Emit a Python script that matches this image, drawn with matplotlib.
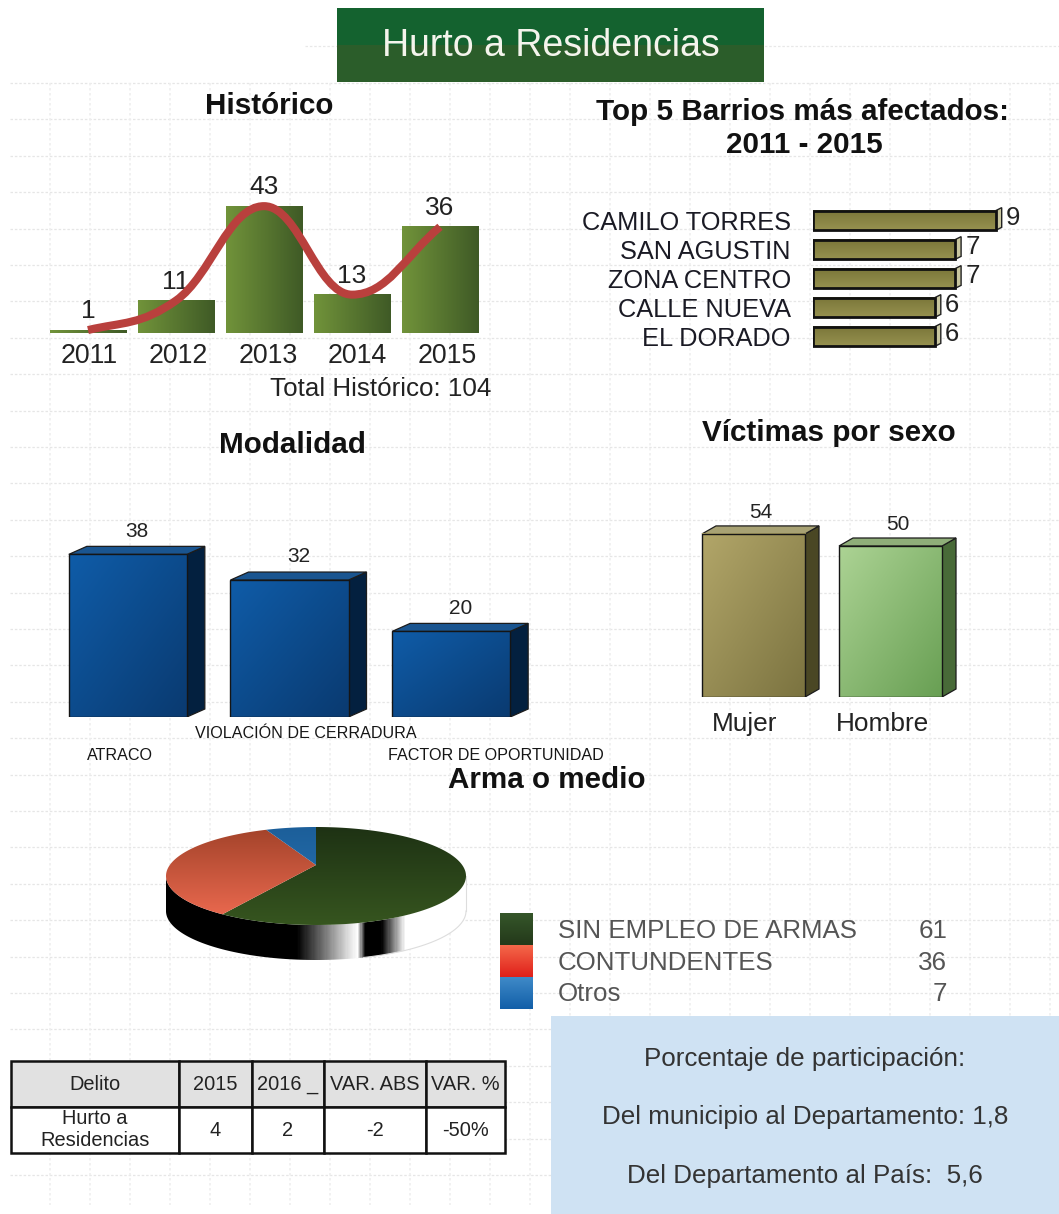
import numpy as np
import matplotlib
matplotlib.use('Agg')
import matplotlib.pyplot as plt
from matplotlib.colors import LinearSegmentedColormap
from matplotlib.patches import Polygon, PathPatch, Rectangle
from matplotlib.path import Path

plt.rcParams['font.family'] = ['Liberation Sans', 'DejaVu Sans']

W, H = 1059, 1214

# data
years = ['2011', '2012', '2013', '2014', '2015']
historico = [1, 11, 43, 13, 36]
barrios = ['CAMILO TORRES', 'SAN AGUSTIN', 'ZONA CENTRO', 'CALLE NUEVA', 'EL DORADO']
barrios_val = [9, 7, 7, 6, 6]
modalidad = ['ATRACO', 'VIOLACIÓN DE CERRADURA', 'FACTOR DE OPORTUNIDAD']
modalidad_val = [38, 32, 20]
sexo = ['Mujer', 'Hombre']
sexo_val = [54, 50]
armas = ['SIN EMPLEO DE ARMAS', 'CONTUNDENTES', 'Otros']
armas_val = [61, 36, 7]
tabla_cols = ['Delito', '2015', '2016 _', 'VAR. ABS', 'VAR. %']
tabla_fila = ['Hurto a\nResidencias', '4', '2', '-2', '-50%']

fig = plt.figure(figsize=(W / 100, H / 100), dpi=100, facecolor='white')


def ax_px(x0, y0, x1, y1, **kw):
    # axes placed with pixel coordinates, y going down
    ax = fig.add_axes([x0 / W, 1 - y1 / H, (x1 - x0) / W, (y1 - y0) / H], **kw)
    ax.patch.set_visible(False)
    return ax


def gradient(ax, x0, x1, bottom, top, c0, c1, mode='h', clip=None, z=2, stops=None):
    # mode h = left to right, v = top to bottom, d = diagonal
    n = 80
    if mode == 'h':
        img = np.linspace(0, 1, 300).reshape(1, -1)
    elif mode == 'v':
        img = np.linspace(0, 1, n).reshape(-1, 1)
    else:
        xx, yy = np.meshgrid(np.linspace(0, 1, n), np.linspace(0, 1, n))
        img = (xx + yy) / 2
    colors = stops if stops else [c0, c1]
    cmap = LinearSegmentedColormap.from_list('g', colors)
    im = ax.imshow(img, extent=(x0, x1, bottom, top), cmap=cmap, vmin=0, vmax=1,
                   aspect='auto', zorder=z, interpolation='bilinear')
    if clip is not None:
        clip.set_transform(ax.transData)
        im.set_clip_path(clip)
    return im


def bar3d(ax, x, w, h, dx, dy, c0, c1, ctop, cside, cside2=None):
    l, r = x - w / 2, x + w / 2
    side = Polygon([(r, 0), (r + dx, dy), (r + dx, h + dy), (r, h)], closed=True,
                   fc=cside, ec='#1c1c1c', lw=0.9, zorder=3)
    top = Polygon([(l, h), (l + dx, h + dy), (r + dx, h + dy), (r, h)], closed=True,
                  fc=ctop, ec='#1c1c1c', lw=0.9, zorder=3)
    ax.add_patch(side)
    ax.add_patch(top)
    gradient(ax, l, r, 0, h, c0, c1, mode='d', z=3)
    ax.add_patch(Rectangle((l, 0), w, h, fc='none', ec='#151515', lw=1.0, zorder=4))


# background with faint grid, banner and texts, in pixels
bg = ax_px(0, 0, W, H)
bg.set_xlim(0, W)
bg.set_ylim(H, 0)
bg.axis('off')
for gy in np.arange(83, 1190, 36.4):
    bg.plot([10, W], [gy, gy], color='#e6e6e6', lw=0.9, ls=(0, (2, 1.5)), zorder=0)
bg.plot([305, W], [46, 46], color='#e8e8e8', lw=0.9, ls=(0, (2, 1.5)), zorder=0)
for gx in np.arange(50, W, 40):
    bg.plot([gx, gx], [83, 1205], color='#efefef', lw=1.2, ls=(0, (1.5, 1.5)), zorder=0)

bg.add_patch(Rectangle((337, 8), 427, 37, fc='#14622f', ec='none', zorder=1))
bg.add_patch(Rectangle((337, 45), 427, 37, fc='#2b5d2a', ec='none', zorder=1))
bg.text(551, 46, 'Hurto a Residencias', color='#f4f4ec', fontsize=27, ha='center', va='center', zorder=5)

for tx, ty, s in [(269, 106, 'Histórico'), (802, 112, 'Top 5 Barrios más afectados:'),
                  (804, 145, '2011 - 2015'), (292, 445, 'Modalidad'),
                  (829, 433, 'Víctimas por sexo'), (547, 780, 'Arma o medio')]:
    bg.text(tx, ty, s, fontsize=21.3, fontweight='bold', color='#111111', ha='center', va='center', zorder=5)

bg.text(491, 389, 'Total Histórico: 104', fontsize=18.7, color='#222222', ha='right', va='center', zorder=5)

# Historico
ax = ax_px(44, 190, 484, 333)
esc = 2.95
ax.set_xlim(-0.5, 4.5)
ax.set_ylim(0, 143 / esc)
for i, v in enumerate(historico):
    gradient(ax, i - 0.435, i + 0.435, 0, v, '#71933a', '#3f5a26', mode='h')
    ax.annotate(str(v), (i, v), xytext=(0, 5), textcoords='offset points', ha='center', va='bottom',
                fontsize=19, color='#222222', annotation_clip=False, zorder=4)
xs = np.arange(len(historico))
ys = np.array(historico, dtype=float)
m = np.zeros(len(ys))
m[0] = (ys[1] - ys[0]) * 0.7
m[-1] = (ys[-1] - ys[-2]) * 1.1
for i in range(1, len(ys) - 1):
    if (ys[i] - ys[i - 1]) * (ys[i + 1] - ys[i]) > 0:
        m[i] = (ys[i + 1] - ys[i - 1]) / 2
verts = [(xs[0], ys[0])]
codes = [Path.MOVETO]
for i in range(len(ys) - 1):
    verts += [(xs[i] + 0.4, ys[i] + m[i] * 0.4), (xs[i + 1] - 0.4, ys[i + 1] - m[i + 1] * 0.4), (xs[i + 1], ys[i + 1])]
    codes += [Path.CURVE4] * 3
ax.add_patch(PathPatch(Path(verts, codes), fc='none', ec='#b9403d', lw=5.8, zorder=6, capstyle='butt', clip_on=False))
# the year labels drift a little to the right of their bars
ax.set_xticks(xs + 0.012 + 0.017 * xs)
ax.set_xticklabels(years, fontsize=19.3, color='#222222')
ax.set_yticks([])
ax.tick_params(axis='x', length=0, pad=7)
for sp in ax.spines.values():
    sp.set_visible(False)

# Top 5 barrios
ax = ax_px(813, 206, 1025, 351)
esc = 20.3
ax.set_xlim(0, 212 / esc)
ax.set_ylim(4.5, -0.5)
for i, v in enumerate(barrios_val):
    dx, dy = 6 / esc, 3 / 29
    ax.add_patch(Polygon([(v, i - 0.34), (v + dx, i - 0.34 - dy), (v + dx, i + 0.34 - dy), (v, i + 0.34)],
                         closed=True, fc='#c9c7a0', ec='#222222', lw=1.0, zorder=3))
    gradient(ax, 0, v, i + 0.34, i - 0.34, '#7a7639', '#96914f', mode='v', z=3)
    ax.add_patch(Rectangle((0, i - 0.34), v, 0.68, fc='none', ec='#111111', lw=2.0, zorder=4))
    ax.annotate(str(v), (v + dx, i), xytext=(3, 2), textcoords='offset points', ha='left', va='center',
                fontsize=18.5, color='#222222', zorder=5, annotation_clip=False)
ax.set_yticks(range(len(barrios)))
ax.set_yticklabels(barrios, fontsize=18.3, color='#1a1a24')
ax.set_xticks([])
ax.tick_params(axis='y', length=0, pad=16)
for sp in ax.spines.values():
    sp.set_visible(False)

# Modalidad
ax = ax_px(47, 500, 532, 717)
esc = 4.28
ax.set_xlim(-0.5, 2.5)
ax.set_ylim(0, 217 / esc)
ax.axis('off')
ddx, ddy = 18 / 161.75, 8 / esc
for i, v in enumerate(modalidad_val):
    bar3d(ax, i, 0.73, v, ddx, ddy, '#0f5ca8', '#0a3a70', '#1a5590', '#03203f')
    ax.annotate(str(v), (i + ddx / 2, v + ddy), xytext=(0, 4), textcoords='offset points', ha='center', va='bottom',
                fontsize=15, color='#222222', annotation_clip=False, zorder=5)
for s, tx, ty in zip(modalidad, [120, 306, 496], [756, 733, 755]):
    bg.text(tx, ty, s, fontsize=11.6, color='#151515', ha='center', va='center', zorder=5)

# Victimas por sexo
ax = ax_px(685, 490, 959, 697)
esc = 3.02
ax.set_xlim(-0.5, 1.5)
ax.set_ylim(0, 207 / esc)
ax.axis('off')
ddx, ddy = 14 / 137, 8 / esc
estilos = [('#b2a669', '#7b7340', '#a8a274', '#4a4724'), ('#acd394', '#689f53', '#8fae79', '#486a38')]
for i, v in enumerate(sexo_val):
    c0, c1, ct, cs = estilos[i]
    bar3d(ax, i, 0.752, v, ddx, ddy, c0, c1, ct, cs)
    ax.annotate(str(v), (i + ddx / 2, v + ddy), xytext=(0, 3), textcoords='offset points', ha='center', va='bottom',
                fontsize=15, color='#222222', annotation_clip=False, zorder=5)
for s, tx in zip(sexo, [745, 882]):
    bg.text(tx, 724, s, fontsize=18.9, color='#222222', ha='center', va='center', zorder=5)

# Arma o medio, tilted pie drawn as ellipse with side wall
ax = ax_px(150, 820, 482, 970)
ux, uy = 150, 49
ax.set_xlim((150 - 316) / ux, (482 - 316) / ux)
ax.set_ylim(-(970 - 876) / uy, (876 - 820) / uy)
ax.axis('off')
prof = 35 / uy
t = np.linspace(np.pi, 2 * np.pi, 200)
ex, ey = np.cos(t), np.sin(t)
wall = Polygon(np.r_[np.c_[ex, ey], np.c_[ex[::-1], ey[::-1] - prof]], closed=True, fc='none', ec='none')
ax.add_patch(wall)
gradient(ax, -1, 1, -1 - prof, 0.1, None, None, mode='h', clip=wall, z=2,
         stops=[(0, '#000000'), (0.437, '#000000'), (0.61, '#e0e0e0'), (0.64, '#ffffff'), (0.665, '#000000'),
                (0.72, '#000000'), (0.80, '#ffffff'), (1, '#ffffff')])
ax.plot(ex[-80:], ey[-80:] - prof, color='#dddddd', lw=0.8, zorder=3)
ax.plot([1, 1], [0, -prof], color='#dddddd', lw=0.8, zorder=3)

ang = 90 - np.r_[0, np.cumsum(armas_val)] / sum(armas_val) * 360
k = 11 / uy  # perspective of the tilted disc, pushes the centre up
pie_col = [('#1e3214', '#36551f'), ('#a3432a', '#f06c52'), ('#1c5f9a', '#2a75b5')]
for i in range(len(armas_val)):
    a = np.radians(np.linspace(ang[i], ang[i + 1], 150))
    cx, cy = np.cos(a), np.sin(a)
    px = np.sqrt(1 - k ** 2) * cx / (1 + k * cy)
    py = (cy + k) / (1 + k * cy)
    w = Polygon(np.r_[[(0, k)], np.c_[px, py]], closed=True, fc='none', ec='none')
    ax.add_patch(w)
    gradient(ax, -1, 1, -1, 1, pie_col[i][0], pie_col[i][1], mode='v', clip=w, z=4)

# legend of the pie
sw_col = [('#35562a', '#24391a'), ('#f4684a', '#e0201a'), ('#3f8ac8', '#125fa8')]
for i, s in enumerate(armas):
    gradient(bg, 500, 533, 945 + 32 * i, 913 + 32 * i, sw_col[i][0], sw_col[i][1], mode='v', z=3)
    bg.text(558, 931 + 31.5 * i, s, fontsize=18.6, color='#555555', ha='left', va='center', zorder=5)
    bg.text(947, 931 + 31.5 * i, str(armas_val[i]), fontsize=18.6, color='#555555', ha='right', va='center', zorder=5)

# light blue box
bg.add_patch(Rectangle((551, 1016), W - 551, H - 1016, fc='#cfe2f3', ec='none', zorder=2))
bg.text(805, 1059, 'Porcentaje de participación:', fontsize=18.7, color='#333333', ha='center', va='center', zorder=5)
bg.text(805, 1117, 'Del municipio al Departamento: 1,8', fontsize=18.7, color='#333333', ha='center', va='center', zorder=5)
bg.text(805, 1176, 'Del Departamento al País:  5,6', fontsize=18.7, color='#333333', ha='center', va='center', zorder=5)

# table
ax = ax_px(11, 1061, 505, 1153)
ax.axis('off')
anchos = np.array([168, 73, 72, 102, 79]) / 494
tb = ax.table(cellText=[tabla_fila], colLabels=tabla_cols, colWidths=list(anchos), bbox=[0, 0, 1, 1], cellLoc='center')
tb.auto_set_font_size(False)
tb.set_fontsize(14.4)
for (r, c), cell in tb.get_celld().items():
    cell.set_linewidth(1.8)
    cell.set_edgecolor('#111111')
    cell.PAD = 0.01
    cell.get_text().set_color('#222222')
    cell.set_facecolor('#e1e1e1' if r == 0 else 'white')
bg.plot([504, 504], [1061, 1153], color='#111111', lw=3, zorder=5, solid_capstyle='butt')

bg.set_xlim(0, W)
bg.set_ylim(H, 0)
plt.savefig('out.png', dpi=100)
